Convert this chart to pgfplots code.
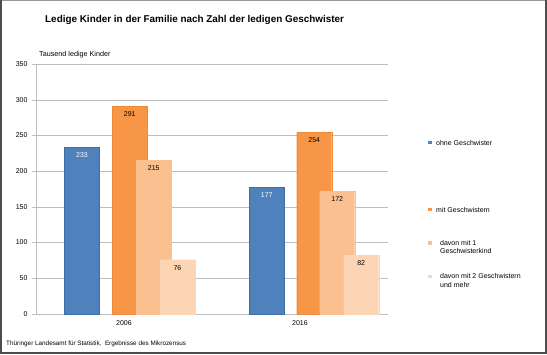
\documentclass[border=0pt]{standalone}
\usepackage{fontspec}
\setmainfont{Liberation Sans}
\usepackage{pgfplots}
\pgfplotsset{compat=1.18}
\definecolor{cblue}{HTML}{4F81BD}
\definecolor{cblueb}{HTML}{3D6DA8}
\definecolor{corange}{HTML}{F79646}
\definecolor{corangeb}{HTML}{EC8A3A}
\definecolor{clight}{HTML}{FAC090}
\definecolor{clighter}{HTML}{FCD5B5}
\definecolor{gridc}{RGB}{190,190,190}
\begin{document}
\begin{tikzpicture}[x=1pt,y=1pt]
\path[use as bounding box] (0,0) rectangle (547,354);
\fill[white] (0,0) rectangle (547,354);
\begin{axis}[
  at={(36pt,40pt)}, anchor=south west,
  scale only axis, width=352pt, height=250pt,
  xmin=36, xmax=388, ymin=0, ymax=350,
  axis x line*=bottom, axis y line*=left,
  axis line style={gridc},
  ytick={0,50,...,350},
  ymajorgrids, major grid style={gridc},
  xtick={124,300}, xticklabels={2006,2016},
  extra x ticks={36,212,388}, extra x tick labels={},
  extra x tick style={major tick length=4pt, tick style={gridc}, tick align=outside, xmajorgrids=false},
  major tick length=4pt,
  tick align=outside,
  x tick style={draw=none},
  y tick style={gridc},
  ticklabel style={font=\fontsize{7}{8}\selectfont},
  /pgf/number format/assume math mode=true,
  yticklabel style={xshift=-1pt},
  xticklabel style={yshift=1pt},
  ybar, bar width=35, bar shift=0pt,
  nodes near coords,
  every node near coord/.append style={anchor=center, yshift=-8pt, font=\fontsize{7}{8}\selectfont},
  clip=false,
]
\addplot[fill=cblue, draw=cblueb, every node near coord/.append style={text=white}] coordinates {(82,233) (266.8,177)};
\addplot[fill=corange, draw=corangeb, every node near coord/.append style={text=black}] coordinates {(129.8,291) (314.2,254)};
\addplot[fill=clight, draw=clight, every node near coord/.append style={text=black}] coordinates {(153.7,215) (337.2,172)};
\addplot[fill=clighter, draw=clighter, every node near coord/.append style={text=black}] coordinates {(177.5,76) (361.2,82)};
\end{axis}
% title and labels
\node[anchor=base west, font=\bfseries\fontsize{9.9}{11}\selectfont, inner sep=0] at (45,331) {Ledige Kinder in der Familie nach Zahl der ledigen Geschwister};
\node[anchor=base west, font=\fontsize{7.2}{8}\selectfont, inner sep=0] at (39,297) {Tausend ledige Kinder};
\node[anchor=base west, font=\fontsize{6.35}{8}\selectfont, inner sep=0] at (6,8.5) {Thüringer Landesamt für Statistik,\ \ Ergebnisse des Mikrozensus};
% legend
\fill[cblue] (428.3,209.5) rectangle (431.8,213);
\node[anchor=base west, font=\fontsize{7}{8}\selectfont, inner sep=0] at (436,208.8) {ohne Geschwister};
\fill[corange] (428.3,142.5) rectangle (431.8,146);
\node[anchor=base west, font=\fontsize{7}{8}\selectfont, inner sep=0] at (436,141.8) {mit Geschwistern};
\fill[clight] (428.3,109) rectangle (431.8,112.5);
\node[anchor=base west, font=\fontsize{7}{8}\selectfont, inner sep=0, align=left] at (440,108.5) {davon mit 1};
\node[anchor=base west, font=\fontsize{7}{8}\selectfont, inner sep=0] at (440,100) {Geschwisterkind};
\fill[clighter] (428.3,75.5) rectangle (431.8,79);
\node[anchor=base west, font=\fontsize{7}{8}\selectfont, inner sep=0] at (440,75) {davon mit 2 Geschwistern};
\node[anchor=base west, font=\fontsize{7}{8}\selectfont, inner sep=0] at (440,66.5) {und mehr};
% frame
\draw[black!40, line width=1pt] (0.5,353.5) -- (545.5,353.5);
\draw[black!70, line width=1.5pt] (0.75,353.5) -- (0.75,1.25) -- (545.75,1.25) -- (545.75,354);
\end{tikzpicture}
\end{document}
